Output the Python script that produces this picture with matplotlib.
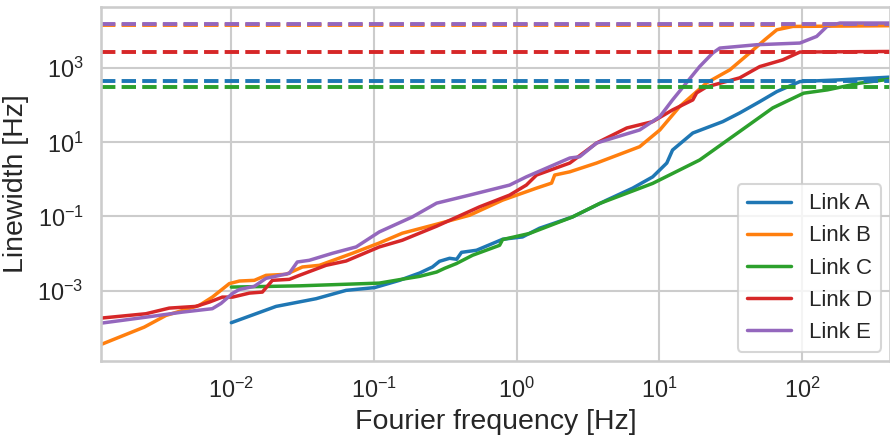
import numpy as np
import matplotlib
matplotlib.use("Agg")
import matplotlib.pyplot as plt
import seaborn as sns

# --------------------------------------------------------------
# Data (Fourier frequency [Hz], linewidth [Hz])
# --------------------------------------------------------------

links = ["Link A", "Link B", "Link C", "Link D", "Link E"]
colors = ["#1f77b4", "#ff7f0e", "#2ca02c", "#d62728", "#9467bd"]

freq_a = [0.0100, 0.0206, 0.0393, 0.0638, 0.101, 0.151, 0.209, 0.257, 0.288,
          0.339, 0.380, 0.411, 0.524, 0.798, 1.10, 1.45, 2.47, 4.28, 6.52,
          9.0, 11.3, 12.4, 17.2, 27.9, 36.7, 50.7, 66.8, 96.9, 185, 415]
lw_a = [1.37e-4, 3.77e-4, 6.08e-4, 1.02e-3, 1.21e-3, 1.90e-3, 2.99e-3, 4.35e-3,
        6.19e-3, 7.46e-3, 7.02e-3, 0.0108, 0.0123, 0.0243, 0.0281, 0.0483,
        0.0975, 0.276, 0.582, 1.17, 2.76, 6.19, 17.8, 36.1, 61.9, 125, 233,
        434, 483, 571]

freq_b = [0.00122, 0.00245, 0.00348, 0.00596, 0.00736, 0.00968, 0.0114, 0.0145,
          0.0175, 0.0242, 0.0315, 0.0415, 0.0707, 0.109, 0.158, 0.275, 0.468,
          0.798, 1.38, 1.76, 1.85, 2.36, 3.64, 7.29, 10.1, 13.9, 21.5, 31.3,
          43.2, 55.0, 66.8, 86.5, 415]
lw_b = [3.54e-5, 1.04e-4, 2.15e-4, 4.01e-4, 6.71e-4, 1.55e-3, 1.82e-3, 1.90e-3,
        2.59e-3, 2.76e-3, 4.35e-3, 4.83e-3, 0.0102, 0.0193, 0.0354, 0.0619,
        0.108, 0.276, 0.582, 0.795, 1.31, 1.60, 2.76, 7.60, 21.5, 91.6, 401,
        900, 2590, 5820, 10800, 13300, 13900]

freq_c = [0.0100, 0.0300, 0.109, 0.151, 0.209, 0.275, 0.313, 0.378, 0.491,
          0.760, 0.798, 1.23, 2.47, 3.82, 9.0, 19.2, 40.9, 62.5, 103, 151,
          255, 415]
lw_c = [1.25e-3, 1.35e-3, 1.60e-3, 1.98e-3, 2.43e-3, 3.18e-3, 4.01e-3, 5.37e-3,
        9.0e-3, 0.0167, 0.0239, 0.0348, 0.0975, 0.224, 0.780, 3.33, 26.4,
        84.5, 211, 259, 394, 505]

freq_d = [0.00122, 0.00252, 0.00367, 0.00565, 0.00701, 0.00865, 0.0102, 0.0134,
          0.0165, 0.0194, 0.0255, 0.0300, 0.0462, 0.0638, 0.109, 0.158, 0.275,
          0.550, 0.893, 1.17, 1.38, 2.36, 3.64, 5.92, 9.0, 12.4, 17.2, 18.3,
          21.5, 36.7, 50.7, 73.6, 96.9, 415]
lw_d = [1.82e-4, 2.39e-4, 3.39e-4, 3.77e-4, 4.92e-4, 6.71e-4, 6.71e-4, 8.61e-4,
        9.16e-4, 1.90e-3, 2.02e-3, 2.59e-3, 4.83e-3, 6.31e-3, 0.0151, 0.0229,
        0.0547, 0.182, 0.377, 0.702, 1.31, 2.76, 9.57, 24.3, 36.1, 74.6, 139,
        215, 312, 547, 1100, 1670, 2710, 2810]

freq_e = [0.00122, 0.00252, 0.00453, 0.00736, 0.00847, 0.0102, 0.0114, 0.0145,
          0.0175, 0.0255, 0.0290, 0.0352, 0.0512, 0.0750, 0.109, 0.186, 0.275,
          0.468, 0.893, 1.17, 2.36, 2.77, 3.64, 7.29, 10.1, 12.4, 19.2, 23.7,
          26.6, 48.3, 96.9, 127, 150, 185, 415]
lw_e = [1.33e-4, 1.93e-4, 2.64e-4, 3.27e-4, 4.54e-4, 8.45e-4, 1.08e-3, 1.31e-3,
        2.15e-3, 2.94e-3, 5.93e-3, 6.59e-3, 0.0102, 0.0151, 0.0384, 0.0975,
        0.229, 0.377, 0.702, 1.17, 3.77, 4.08, 9.57, 21.5, 49.2, 139, 1100,
        2540, 3470, 4270, 4740, 7150, 13300, 16400, 16400]

# integrated linewidth limits (dashed lines)
limits = [460, 14100, 306, 2800, 15700]

freqs = [freq_a, freq_b, freq_c, freq_d, freq_e]
widths = [lw_a, lw_b, lw_c, lw_d, lw_e]

# --------------------------------------------------------------
# Plot
# --------------------------------------------------------------

sns.set_style("whitegrid")
sns.set_context("talk")
plt.rcParams["font.family"] = ["Liberation Sans", "DejaVu Sans"]
plt.rcParams["mathtext.fontset"] = "custom"
plt.rcParams["mathtext.rm"] = "Liberation Sans"
plt.rcParams["mathtext.it"] = "Liberation Sans:italic"
plt.rcParams["mathtext.bf"] = "Liberation Sans:bold"

fig = plt.figure(figsize=(8.9, 4.36), dpi=100)
ax = fig.add_axes([0.1135, 0.173, 0.8865, 0.811])

for name, c, f, w in zip(links, colors, freqs, widths):
    ax.plot(f, w, color=c, lw=2.5, label=name)
for c, lim in zip(colors, limits):
    ax.axhline(lim, color=c, lw=2.8, ls="--")

ax.set_xscale("log")
ax.set_yscale("log")
ax.margins(x=0)
ax.set_xticks([1e-2, 1e-1, 1e0, 1e1, 1e2])
ax.set_yticks([1e-3, 1e-1, 1e1, 1e3])
ax.minorticks_off()
ax.tick_params(labelsize=16.8)
ax.set_xlabel("Fourier frequency [Hz]", fontsize=20.5, labelpad=4)
ax.set_ylabel("Linewidth [Hz]", fontsize=20.5, labelpad=6)
ax.legend(loc="lower right", fontsize=16, borderaxespad=0.4)

fig.savefig("out.png", dpi=100)
